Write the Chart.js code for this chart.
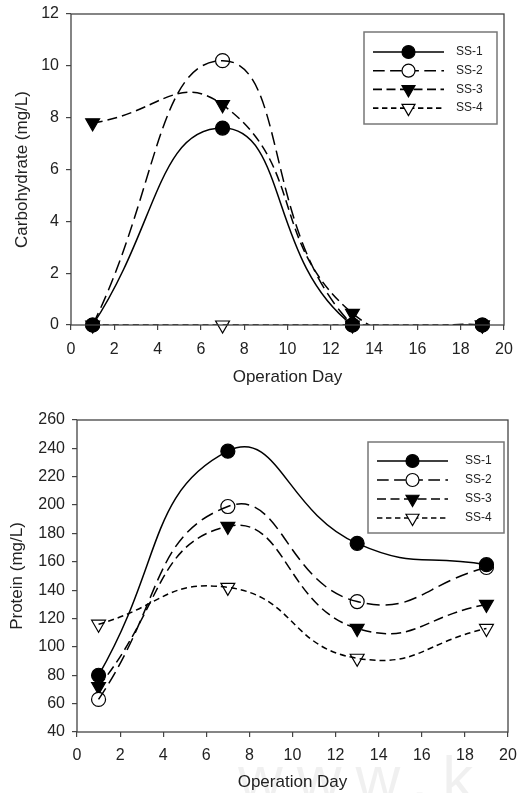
<!DOCTYPE html>
<html>
<head>
<meta charset="utf-8">
<script src="https://cdn.jsdelivr.net/npm/chart.js@4/dist/chart.umd.min.js"></script>
<style>
  body { margin: 0; background: #fff; width: 517px; height: 793px; overflow: hidden; position: relative; }
  .box { position: absolute; left: 0; width: 517px; }
  #wm { position: absolute; left: 238px; top: 742px; font: 62px "Liberation Sans", Arial, sans-serif;
        color: rgba(0,0,0,0.06); letter-spacing: 14px; white-space: nowrap; }
</style>
</head>
<body>
<div class="box" style="top:0;height:395px"><canvas id="carbChart" width="517" height="395"></canvas></div>
<div class="box" style="top:395px;height:398px"><canvas id="protChart" width="517" height="398"></canvas></div>
<div id="wm">www.k</div>
<script>
// data
const days = [1, 7, 13, 19];
const seriesNames = ["SS-1", "SS-2", "SS-3", "SS-4"];

const carbSS1 = [0, 7.6, 0, 0];
const carbSS2 = [0, 10.2, 0, 0];
const carbSS3 = [7.8, 8.5, 0.45, 0];
const carbSS4 = [0, 0, 0, 0];

const protSS1 = [80, 238, 173, 158];
const protSS2 = [63, 199, 132, 156];
const protSS3 = [72, 185, 113, 130];
const protSS4 = [116, 142, 92, 113];

const xTicks = [0, 2, 4, 6, 8, 10, 12, 14, 16, 18, 20];
const carbTicks = [0, 2, 4, 6, 8, 10, 12];
const protTicks = [40, 60, 80, 100, 120, 140, 160, 180, 200, 220, 240, 260];

const FONT = "'Liberation Sans', Arial, sans-serif";
const INK = "#222";

// line + marker look for each series
const looks = [
  { dash: [], fill: "#000", shape: "circle", rot: 0, r: 7 },
  { dash: [13, 6], fill: "#fff", shape: "circle", rot: 0, r: 7 },
  { dash: [10, 5], fill: "#000", shape: "triangle", rot: 180, r: 8 },
  { dash: [6, 4], fill: "#fff", shape: "triangle", rot: 180, r: 8 },
];

function buildSets(list) {
  const sets = [];
  // curves first (clipped to plot), then markers (not clipped)
  list.forEach((vals, i) => {
    sets.push({
      label: seriesNames[i],
      data: days.map((d, k) => ({ x: d, y: vals[k] })),
      borderColor: "#000",
      borderWidth: 1.5,
      borderDash: looks[i].dash,
      tension: 0.5,
      capBezierPoints: false,
      pointRadius: 0,
      fill: false,
    });
  });
  list.forEach((vals, i) => {
    sets.push({
      label: seriesNames[i] + "-pts",
      data: days.map((d, k) => ({ x: d, y: vals[k] })),
      showLine: false,
      clip: false,
      pointStyle: looks[i].shape,
      rotation: looks[i].rot,
      pointRadius: looks[i].r,
      pointBackgroundColor: looks[i].fill,
      pointBorderColor: "#000",
      pointBorderWidth: 1.2,
    });
  });
  return sets;
}

// frame round the plot + legend box with line-and-marker samples
const framePlugin = {
  id: "frameLegend",
  afterDraw(chart, args, opts) {
    const ctx = chart.ctx, a = chart.chartArea;
    ctx.save();
    ctx.strokeStyle = "#444";
    ctx.lineWidth = 1.3;
    ctx.strokeRect(a.left, a.top, a.right - a.left, a.bottom - a.top);

    const bx = a.right - opts.right - opts.w, by = a.top + opts.top;
    ctx.strokeStyle = "#777";
    ctx.lineWidth = 1.5;
    ctx.strokeRect(bx, by, opts.w, opts.h);

    for (let i = 0; i < 4; i++) {
      const y = by + opts.first + i * opts.step;
      const x0 = bx + 9, x1 = bx + 80, xm = (x0 + x1) / 2;
      ctx.beginPath();
      ctx.setLineDash(looks[i].dash.map(v => v * 0.9));
      ctx.strokeStyle = "#000";
      ctx.lineWidth = 1.6;
      ctx.moveTo(x0, y); ctx.lineTo(x1, y);
      ctx.stroke();
      ctx.setLineDash([]);
      ctx.fillStyle = looks[i].fill;
      ctx.lineWidth = 1.2;
      Chart.helpers.drawPoint(ctx, {
        pointStyle: looks[i].shape, rotation: looks[i].rot,
        radius: looks[i].r - 0.5, borderWidth: 1.2,
      }, xm, y);
      ctx.fillStyle = INK;
      ctx.font = "12px " + FONT;
      ctx.textBaseline = "middle";
      ctx.fillText(seriesNames[i], bx + opts.lx, y);
    }
    ctx.restore();
  },
};

// keep the plot box where the layout says, not pushed in by label overhang
function noOverhang(s) {
  s.paddingLeft = 0; s.paddingRight = 0; s.paddingTop = 0; s.paddingBottom = 0;
}

function makeChart(id, sets, yTicks, yTitle, lay) {
  return new Chart(document.getElementById(id), {
    type: "line",
    data: { datasets: sets },
    plugins: [framePlugin],
    options: {
      responsive: false,
      animation: false,
      layout: { autoPadding: false, padding: { top: lay.top, right: lay.right, left: 0, bottom: 0 } },
      plugins: {
        legend: { display: false },
        tooltip: { enabled: false },
        frameLegend: lay.legend,
      },
      scales: {
        x: {
          type: "linear",
          min: 0, max: 20,
          afterBuildTicks: s => { s.ticks = xTicks.map(v => ({ value: v })); },
          afterFit: s => { s.height = lay.xh; noOverhang(s); },
          border: { display: false },
          grid: { drawOnChartArea: false, drawTicks: true, tickLength: 5, color: "#444", lineWidth: 1.2 },
          ticks: { color: INK, font: { family: FONT, size: 16 }, padding: lay.xpad, maxRotation: 0 },
          title: { display: true, text: "Operation Day", color: INK, font: { family: FONT, size: 17 },
                   padding: { top: 4, bottom: lay.xtb } },
        },
        y: {
          min: yTicks[0], max: yTicks[yTicks.length - 1],
          afterBuildTicks: s => { s.ticks = yTicks.map(v => ({ value: v })); },
          afterFit: s => { s.width = lay.yw; noOverhang(s); },
          border: { display: false },
          grid: { drawOnChartArea: false, drawTicks: true, tickLength: 5, color: "#444", lineWidth: 1.2 },
          ticks: { color: INK, font: { family: FONT, size: 16 }, padding: 7 },
          title: { display: true, text: yTitle, color: INK, font: { family: FONT, size: 17 },
                   padding: { top: lay.ytp, bottom: 0 } },
        },
      },
    },
  });
}

makeChart("carbChart", buildSets([carbSS1, carbSS2, carbSS3, carbSS4]), carbTicks, "Carbohydrate (mg/L)",
  { top: 14, right: 13, xh: 70, yw: 71, xpad: 10, xtb: 7, ytp: 12,
    legend: { right: 7, top: 18, w: 133, h: 92, first: 20, step: 18.7, lx: 92 } });

makeChart("protChart", buildSets([protSS1, protSS2, protSS3, protSS4]), protTicks, "Protein (mg/L)",
  { top: 25, right: 9, xh: 61, yw: 77, xpad: 9, xtb: 0, ytp: 7,
    legend: { right: 4, top: 22, w: 136, h: 91, first: 19, step: 19, lx: 97 } });
</script>
</body>
</html>
